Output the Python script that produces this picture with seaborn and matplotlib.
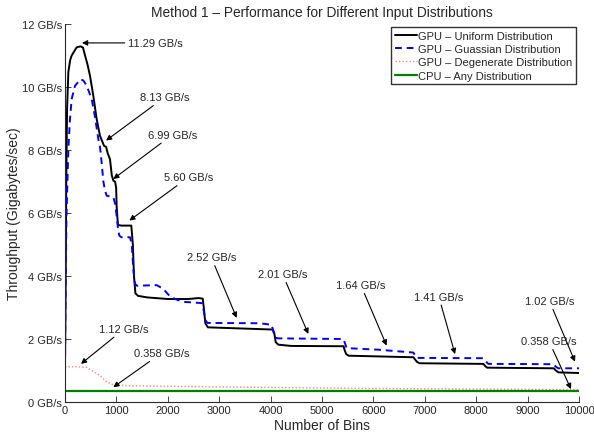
import numpy as np
import pandas as pd
import matplotlib
matplotlib.use("Agg")
import matplotlib.pyplot as plt
import seaborn as sns

# ---- data ----
uni_bins = [0, 10, 25, 40, 65, 100, 130, 227, 305, 350, 390, 440, 486, 551, 616, 681, 733, 760,
            800, 830, 875, 910, 940, 975, 995, 1005, 1030, 1100, 1290, 1320, 1342, 1370, 1420,
            1600, 2000, 2400, 2600, 2680, 2700, 2730, 2780, 3500, 4040, 4070, 4100, 4150, 4400,
            5420, 5440, 5470, 5520, 6780, 6810, 6850, 6900, 8140, 8170, 8210, 9510, 9550, 9600, 10000]
uni_vals = [1.1, 3.0, 7.0, 9.3, 10.47, 10.85, 11.0, 11.26, 11.29, 11.25, 11.0, 10.7, 10.36, 9.72,
            8.98, 8.45, 8.24, 8.13, 8.1, 7.9, 7.71, 7.2, 7.03, 6.99, 6.8, 6.2, 5.62, 5.6, 5.6, 5.0,
            4.0, 3.45, 3.37, 3.32, 3.27, 3.27, 3.3, 3.28, 3.0, 2.5, 2.37, 2.33, 2.3, 2.2, 1.9, 1.82,
            1.78, 1.77, 1.65, 1.52, 1.47, 1.42, 1.35, 1.27, 1.23, 1.21, 1.15, 1.09, 1.07, 1.0, 0.94, 0.92]

gau_bins = [0, 10, 30, 65, 97, 130, 195, 305, 360, 422, 519, 584, 648, 681, 713, 746, 780, 811,
            940, 975, 1005, 1035, 1057, 1100, 1265, 1300, 1330, 1362, 1400, 1784, 1913, 2043,
            2173, 2300, 2660, 2700, 2730, 2770, 3794, 4021, 4060, 4090, 4150, 5415, 5450, 5480,
            6100, 6777, 6810, 6842, 8139, 8180, 8236, 9500, 9550, 9598, 10000]
gau_vals = [1.1, 3.5, 6.0, 8.03, 8.98, 9.62, 10.04, 10.25, 10.2, 10.04, 9.62, 9.05, 8.35, 8.1,
            7.6, 7.0, 6.7, 6.55, 6.5, 6.3, 5.91, 5.45, 5.28, 5.23, 5.23, 5.0, 4.2, 3.75, 3.69,
            3.71, 3.59, 3.35, 3.25, 3.18, 3.14, 2.9, 2.6, 2.51, 2.5, 2.45, 2.2, 2.04, 2.02, 2.0,
            1.85, 1.71, 1.66, 1.57, 1.48, 1.40, 1.39, 1.3, 1.21, 1.2, 1.12, 1.07, 1.07]

deg_bins = [0, 200, 420, 550, 681, 800, 940, 1200, 2000, 4000, 6000, 8000, 10000]
deg_vals = [1.12, 1.12, 1.1, 0.97, 0.84, 0.65, 0.54, 0.52, 0.5, 0.46, 0.43, 0.41, 0.39]

cpu_bins = [0, 10000]
cpu_vals = [0.34, 0.34]

series_names = ["GPU – Uniform Distribution", "GPU – Guassian Distribution",
                "GPU – Degenerate Distribution", "CPU – Any Distribution"]

# annotations: text, text centre (bins, GB/s), arrow tip (bins, GB/s)
ann_text = ["11.29 GB/s", "8.13 GB/s", "6.99 GB/s", "5.60 GB/s", "2.52 GB/s", "2.01 GB/s",
            "1.64 GB/s", "1.41 GB/s", "1.02 GB/s", "0.358 GB/s", "1.12 GB/s", "0.358 GB/s"]
ann_tx = [1226, 1936, 2085, 2399, 2846, 4232, 5755, 7273, 9426, 9416, 1151, 1874]
ann_ty = [11.4, 9.67, 8.48, 7.13, 4.59, 4.06, 3.71, 3.34, 3.2, 1.93, 2.32, 1.55]
ann_px = [330, 798, 940, 1252, 3340, 4734, 6258, 7588, 9922, 9844, 311, 940]
ann_py = [11.4, 8.3, 7.08, 5.76, 2.67, 2.16, 1.79, 1.52, 1.28, 0.41, 1.21, 0.47]
ann_ha = ["left", "center", "center", "center", "center", "center", "center", "center",
          "center", "center", "center", "center"]

x_ticks = list(range(0, 10001, 1000))
y_ticks = [0, 2, 4, 6, 8, 10, 12]
y_ticklabels = [f"{v} GB/s" for v in y_ticks]

# ---- plotting ----
sns.set_style("ticks")
plt.rcParams['font.family'] = ['Liberation Sans', 'DejaVu Sans']
plt.rcParams['xtick.direction'] = 'in'
plt.rcParams['ytick.direction'] = 'in'

fig = plt.figure(figsize=(5.94, 4.39), dpi=100)
ax = fig.add_axes([65 / 594, 36 / 439, 514 / 594, 378 / 439])

sns.lineplot(x=uni_bins, y=uni_vals, ax=ax, color="black", lw=1.4, label=series_names[0])
sns.lineplot(x=gau_bins, y=gau_vals, ax=ax, color="#0000ff", lw=1.4, label=series_names[1],
             linestyle=(0, (3.5, 2.5)))
sns.lineplot(x=deg_bins, y=deg_vals, ax=ax, color="#ff8080", lw=1.0, label=series_names[2],
             linestyle=(0, (1, 1.5)))
sns.lineplot(x=cpu_bins, y=cpu_vals, ax=ax, color="#008000", lw=1.6, label=series_names[3])

for t, tx, ty, px, py, ha in zip(ann_text, ann_tx, ann_ty, ann_px, ann_py, ann_ha):
    ax.annotate(t, xy=(px, py), xytext=(tx, ty), ha=ha, va="center",
                fontsize=8,
                arrowprops=dict(arrowstyle="-|>", color="black", lw=0.8, mutation_scale=8,
                                shrinkA=0, shrinkB=0))

ax.set_xlim(0, 10000)
ax.set_ylim(0, 12)
ax.set_xticks(x_ticks)
ax.set_yticks(y_ticks)
ax.set_yticklabels(y_ticklabels)
ax.tick_params(labelsize=8, length=4, width=0.6, pad=2)
for s in ["top", "right"]:
    ax.spines[s].set_visible(False)
for s in ["left", "bottom"]:
    ax.spines[s].set_linewidth(0.8)

ax.set_xlabel("Number of Bins", fontsize=10, labelpad=2)
ax.set_ylabel("Throughput (Gigabytes/sec)", fontsize=10, labelpad=1)
ax.set_title("Method 1 – Performance for Different Input Distributions", fontsize=9.9, pad=6)

leg = ax.legend(loc="upper right", bbox_to_anchor=(1.0, 1.0), fontsize=8, frameon=True,
                fancybox=False, handlelength=2.0, handletextpad=0.1, borderpad=0.3,
                labelspacing=0.3, borderaxespad=0.3)
leg.get_frame().set_edgecolor("black")
leg.get_frame().set_linewidth(1.0)

fig.savefig("out.png", dpi=100)
